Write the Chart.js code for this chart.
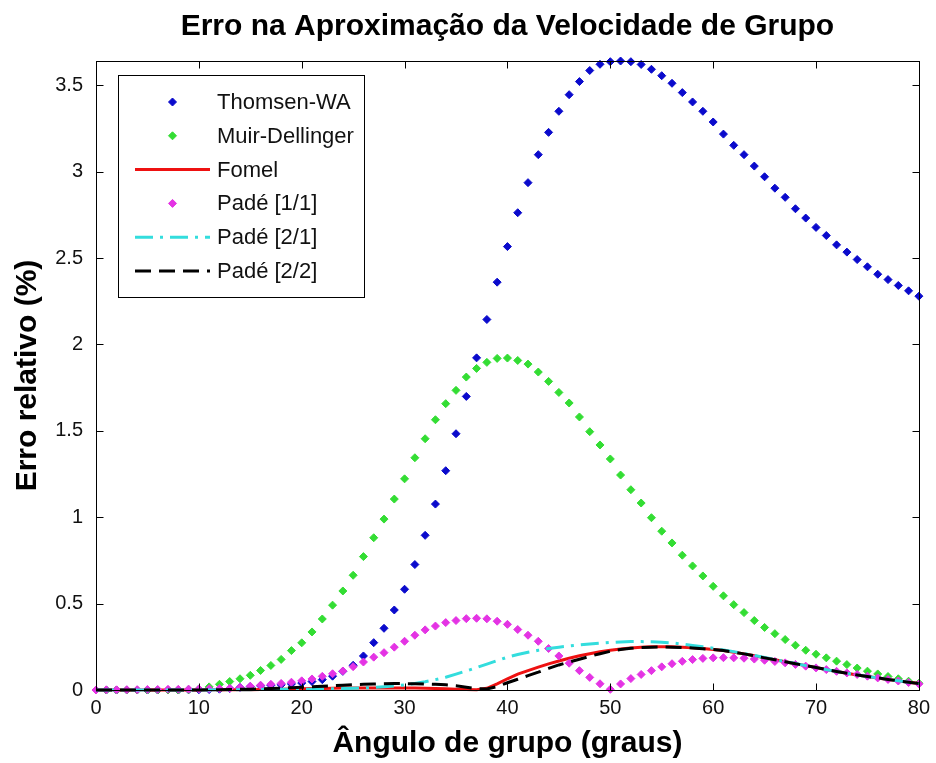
<!DOCTYPE html>
<html>
<head>
<meta charset="utf-8">
<script src="https://cdn.jsdelivr.net/npm/chart.js@4.4.1/dist/chart.umd.min.js"></script>
<style>
  html, body { margin: 0; padding: 0; background: #fff; }
  #wrap { width: 936px; height: 763px; }
</style>
</head>
<body>
<div id="wrap"><canvas id="c" width="936" height="763"></canvas></div>
<script>
// Group angle (degrees)
const angles = [
  0, 1, 2, 3, 4, 5, 6, 7, 8, 9,
  10, 11, 12, 13, 14, 15, 16, 17, 18, 19,
  20, 21, 22, 23, 24, 25, 26, 27, 28, 29,
  30, 31, 32, 33, 34, 35, 36, 37, 38, 39,
  40, 41, 42, 43, 44, 45, 46, 47, 48, 49,
  50, 51, 52, 53, 54, 55, 56, 57, 58, 59,
  60, 61, 62, 63, 64, 65, 66, 67, 68, 69,
  70, 71, 72, 73, 74, 75, 76, 77, 78, 79,
  80
];

// Relative error (%) of each approximation
const thomsenWA = [
  0, 0, 0, 0, 0, 0, 0, 0, 0, 0.001,
  0.002, 0.003, 0.005, 0.009, 0.015, 0.020, 0.024, 0.027, 0.030, 0.035,
  0.040, 0.049, 0.060, 0.080, 0.108, 0.143, 0.197, 0.274, 0.357, 0.463,
  0.583, 0.726, 0.895, 1.076, 1.269, 1.483, 1.699, 1.922, 2.144, 2.360,
  2.566, 2.762, 2.936, 3.098, 3.227, 3.349, 3.445, 3.521, 3.585, 3.621,
  3.636, 3.640, 3.636, 3.620, 3.592, 3.555, 3.511, 3.457, 3.403, 3.349,
  3.287, 3.217, 3.152, 3.098, 3.032, 2.970, 2.904, 2.851, 2.785, 2.731,
  2.677, 2.630, 2.576, 2.534, 2.491, 2.449, 2.406, 2.375, 2.341, 2.310,
  2.279
];

const muirDellinger = [
  0, 0, 0, 0, 0, 0, 0, 0, 0, 0.002,
  0.006, 0.018, 0.033, 0.049, 0.065, 0.085, 0.113, 0.142, 0.177, 0.228,
  0.273, 0.336, 0.411, 0.491, 0.573, 0.664, 0.772, 0.881, 0.989, 1.105,
  1.222, 1.344, 1.454, 1.564, 1.657, 1.734, 1.811, 1.861, 1.896, 1.919,
  1.921, 1.907, 1.886, 1.840, 1.786, 1.722, 1.661, 1.580, 1.495, 1.418,
  1.337, 1.244, 1.159, 1.082, 0.997, 0.919, 0.851, 0.780, 0.718, 0.660,
  0.600, 0.545, 0.494, 0.448, 0.402, 0.362, 0.326, 0.292, 0.259, 0.230,
  0.207, 0.186, 0.167, 0.147, 0.127, 0.109, 0.093, 0.078, 0.065, 0.051,
  0.039
];

const fomel = [
  0, 0, 0, 0, 0, 0, 0, 0, 0, 0,
  0, 0, 0.001, 0.001, 0.002, 0.002, 0.003, 0.004, 0.005, 0.006,
  0.007, 0.008, 0.009, 0.010, 0.011, 0.012, 0.012, 0.012, 0.012, 0.012,
  0.012, 0.011, 0.010, 0.009, 0.007, 0.005, 0.003, 0.001, 0.010, 0.035,
  0.065, 0.092, 0.112, 0.132, 0.151, 0.168, 0.184, 0.198, 0.210, 0.221,
  0.230, 0.237, 0.243, 0.247, 0.250, 0.251, 0.250, 0.248, 0.245, 0.240,
  0.235, 0.228, 0.219, 0.209, 0.198, 0.186, 0.175, 0.164, 0.152, 0.141,
  0.130, 0.118, 0.107, 0.097, 0.087, 0.078, 0.070, 0.061, 0.053, 0.045,
  0.038
];

const pade11 = [
  0, 0.001, 0.001, 0.002, 0.002, 0.003, 0.003, 0.004, 0.004, 0.005,
  0.006, 0.007, 0.008, 0.010, 0.015, 0.022, 0.028, 0.033, 0.038, 0.045,
  0.053, 0.064, 0.079, 0.094, 0.110, 0.135, 0.162, 0.190, 0.216, 0.248,
  0.282, 0.317, 0.348, 0.370, 0.390, 0.402, 0.413, 0.415, 0.412, 0.398,
  0.380, 0.350, 0.317, 0.282, 0.240, 0.197, 0.155, 0.112, 0.073, 0.036,
  0.004, 0.035, 0.066, 0.090, 0.112, 0.134, 0.152, 0.166, 0.176, 0.183,
  0.186, 0.187, 0.186, 0.184, 0.179, 0.172, 0.165, 0.157, 0.148, 0.138,
  0.128, 0.118, 0.108, 0.099, 0.090, 0.080, 0.070, 0.061, 0.052, 0.043,
  0.035
];

const pade21 = [
  0, 0, 0, 0, 0, 0, 0, 0, 0, 0,
  0, 0, 0.001, 0.001, 0.002, 0.002, 0.003, 0.003, 0.004, 0.004,
  0.005, 0.005, 0.006, 0.007, 0.008, 0.010, 0.012, 0.015, 0.019, 0.024,
  0.030, 0.038, 0.048, 0.060, 0.074, 0.092, 0.110, 0.130, 0.150, 0.170,
  0.190, 0.205, 0.218, 0.230, 0.240, 0.248, 0.255, 0.261, 0.266, 0.271,
  0.275, 0.278, 0.280, 0.280, 0.279, 0.276, 0.272, 0.266, 0.258, 0.250,
  0.242, 0.232, 0.222, 0.211, 0.200, 0.188, 0.176, 0.165, 0.153, 0.141,
  0.130, 0.118, 0.107, 0.097, 0.087, 0.078, 0.070, 0.061, 0.053, 0.045,
  0.037
];

const pade22 = [
  0, 0, 0, 0, 0, 0, 0, 0, 0, 0,
  0, 0.001, 0.002, 0.003, 0.004, 0.005, 0.007, 0.009, 0.011, 0.013,
  0.016, 0.019, 0.022, 0.025, 0.028, 0.031, 0.033, 0.035, 0.036, 0.037,
  0.037, 0.036, 0.035, 0.033, 0.030, 0.025, 0.016, 0.007, 0.006, 0.020,
  0.042, 0.062, 0.083, 0.103, 0.125, 0.145, 0.162, 0.178, 0.195, 0.210,
  0.224, 0.234, 0.241, 0.246, 0.248, 0.249, 0.248, 0.246, 0.243, 0.239,
  0.235, 0.228, 0.219, 0.209, 0.198, 0.186, 0.175, 0.164, 0.152, 0.141,
  0.130, 0.118, 0.107, 0.097, 0.087, 0.078, 0.070, 0.061, 0.053, 0.045,
  0.038
];

const seriesNames = ['Thomsen-WA', 'Muir-Dellinger', 'Fomel', 'Padé [1/1]', 'Padé [2/1]', 'Padé [2/2]'];
const xTicks = [0, 10, 20, 30, 40, 50, 60, 70, 80];
const yTicks = [0, 0.5, 1, 1.5, 2, 2.5, 3, 3.5];
const titleText = 'Erro na Aproximação da Velocidade de Grupo';
const xTitle = 'Ângulo de grupo (graus)';
const yTitle = 'Erro relativo (%)';

const FAMILY = '"Liberation Sans", Arial, Helvetica, sans-serif';

const toPoints = vals => angles.map((a, i) => ({ x: a, y: vals[i] }));

function markerSet(label, vals, color, order) {
  return {
    label, data: toPoints(vals), showLine: false,
    pointStyle: 'rectRot', pointRadius: 4, pointBorderWidth: 1,
    pointBackgroundColor: color, pointBorderColor: color,
    borderColor: color, backgroundColor: color, clip: false, order
  };
}
function lineSet(label, vals, color, dash, order) {
  return {
    label, data: toPoints(vals), showLine: true,
    borderColor: color, backgroundColor: color, borderWidth: 3,
    borderDash: dash, pointRadius: 0, tension: 0, clip: false, order
  };
}

// Title centred over the axes area
const axesTitle = {
  id: 'axesTitle',
  afterDraw(chart) {
    const { ctx, chartArea: a } = chart;
    ctx.save();
    ctx.font = 'bold 30px ' + FAMILY;
    ctx.fillStyle = '#000';
    ctx.textAlign = 'center';
    ctx.textBaseline = 'middle';
    ctx.fillText(titleText, (a.left + a.right) / 2, 27);
    ctx.restore();
  }
};

// Box around the axes with inward ticks on all four sides
const axesBox = {
  id: 'axesBox',
  afterDatasetsDraw(chart) {
    const { ctx, chartArea: a, scales: { x, y } } = chart;
    const L = Math.round(a.left) + 0.5, R = Math.round(a.right) + 0.5;
    const T = Math.round(a.top) + 0.5, B = Math.round(a.bottom) + 0.5;
    const len = 7;
    ctx.save();
    ctx.strokeStyle = '#000';
    ctx.lineWidth = 1;
    ctx.strokeRect(L, T, R - L, B - T);
    ctx.beginPath();
    x.ticks.forEach(t => {
      const px = Math.round(x.getPixelForValue(t.value)) + 0.5;
      ctx.moveTo(px, B); ctx.lineTo(px, B - len);
      ctx.moveTo(px, T); ctx.lineTo(px, T + len);
    });
    y.ticks.forEach(t => {
      const py = Math.round(y.getPixelForValue(t.value)) + 0.5;
      ctx.moveTo(L, py); ctx.lineTo(L + len, py);
      ctx.moveTo(R, py); ctx.lineTo(R - len, py);
    });
    ctx.stroke();
    ctx.restore();
  }
};

// Legend box in the upper left corner of the axes
const legendBox = {
  id: 'legendBox',
  afterDraw(chart) {
    const { ctx, chartArea: a } = chart;
    const bx = Math.round(a.left + 22) + 0.5, by = Math.round(a.top + 14) + 0.5;
    const bw = 246, bh = 222;
    const sx0 = a.left + 39, sx1 = a.left + 114, sc = (sx0 + sx1) / 2;
    const tx = a.left + 121;
    const rowY0 = a.top + 41, rowStep = 33.8;
    ctx.save();
    ctx.fillStyle = '#fff';
    ctx.fillRect(bx, by, bw, bh);
    ctx.strokeStyle = '#000';
    ctx.lineWidth = 1;
    ctx.strokeRect(bx, by, bw, bh);
    ctx.font = '22px ' + FAMILY;
    ctx.textAlign = 'left';
    ctx.textBaseline = 'middle';
    chart.data.datasets.forEach((ds, i) => {
      const cy = rowY0 + i * rowStep;
      ctx.save();
      if (ds.showLine === false) {
        ctx.fillStyle = ds.pointBackgroundColor;
        ctx.strokeStyle = ds.pointBorderColor;
        ctx.lineWidth = ds.pointBorderWidth;
        Chart.helpers.drawPoint(ctx, { pointStyle: 'rectRot', radius: ds.pointRadius, rotation: 0, borderWidth: ds.pointBorderWidth }, sc, cy);
      } else {
        ctx.strokeStyle = ds.borderColor;
        ctx.lineWidth = ds.borderWidth;
        ctx.setLineDash(ds.borderDash || []);
        ctx.beginPath();
        ctx.moveTo(sx0, cy);
        ctx.lineTo(sx1, cy);
        ctx.stroke();
      }
      ctx.restore();
      ctx.fillStyle = '#111';
      ctx.fillText(ds.label, tx, cy + 1);
    });
    ctx.restore();
  }
};

new Chart(document.getElementById('c'), {
  type: 'line',
  data: {
    datasets: [
      markerSet(seriesNames[0], thomsenWA, '#0a0acc', 6),
      markerSet(seriesNames[1], muirDellinger, '#33dd33', 5),
      lineSet(seriesNames[2], fomel, '#ee1111', [], 4),
      markerSet(seriesNames[3], pade11, '#e433e4', 3),
      lineSet(seriesNames[4], pade21, '#33dddd', [18, 7, 3, 7], 2),
      lineSet(seriesNames[5], pade22, '#000000', [16, 8], 1)
    ]
  },
  options: {
    responsive: false,
    animation: false,
    devicePixelRatio: 1,
    layout: { padding: { left: 0, right: 11, top: 61, bottom: 0 } },
    plugins: {
      legend: { display: false },
      tooltip: { enabled: false },
      title: { display: false }
    },
    scales: {
      x: {
        type: 'linear', min: 0, max: 80,
        afterBuildTicks(s) { s.ticks = xTicks.map(v => ({ value: v })); },
        afterFit(s) { s.height = 73; },
        ticks: { padding: 6, color: '#111', font: { family: FAMILY, size: 20 }, callback: v => String(v) },
        grid: { display: false, drawTicks: false },
        border: { display: false },
        title: {
          display: true, text: xTitle, color: '#000',
          font: { family: FAMILY, size: 30, weight: 'bold', lineHeight: 1.2 },
          padding: { top: 0, bottom: 1 }
        }
      },
      y: {
        type: 'linear', min: 0, max: 3.64,
        afterBuildTicks(s) { s.ticks = yTicks.map(v => ({ value: v })); },
        afterFit(s) { s.width = 96; },
        ticks: { padding: 13, color: '#111', font: { family: FAMILY, size: 20 }, callback: v => String(v) },
        grid: { display: false, drawTicks: false },
        border: { display: false },
        title: {
          display: true, text: yTitle, color: '#000',
          font: { family: FAMILY, size: 30, weight: 'bold', lineHeight: 1.2 },
          padding: { top: 10, bottom: 0 }
        }
      }
    }
  },
  plugins: [axesBox, legendBox, axesTitle]
});
</script>
</body>
</html>
